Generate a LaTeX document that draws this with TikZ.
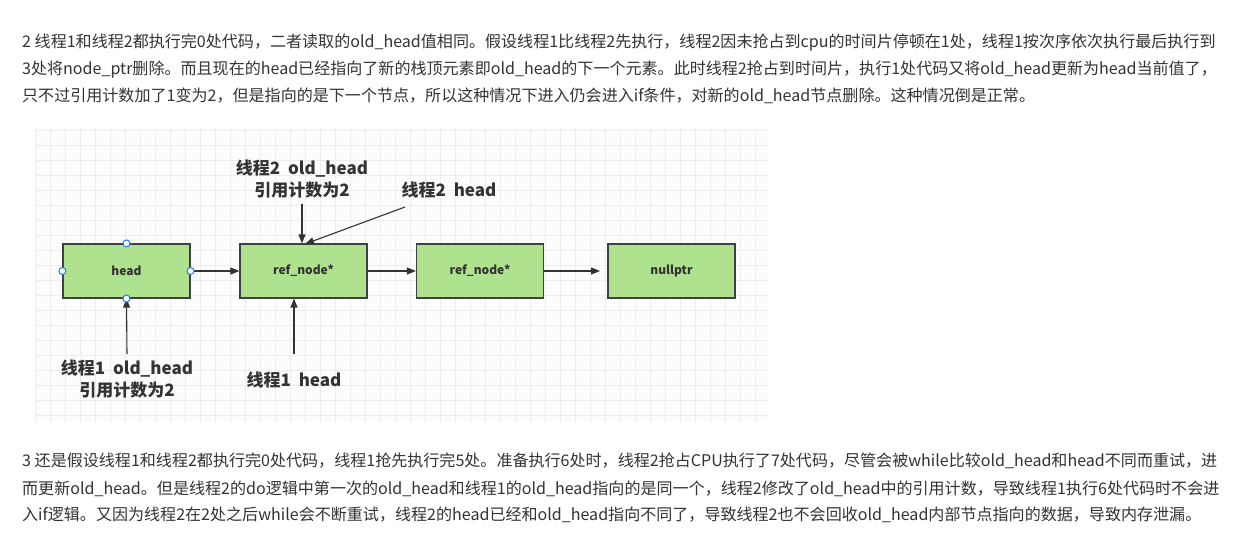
\documentclass[tikz,border=0pt]{standalone}
\usepackage{fontspec}
\setmainfont{Noto Sans CJK SC}
\usetikzlibrary{arrows.meta}
\begin{document}
\begin{tikzpicture}[x=1pt,y=-1pt,
  para/.style={anchor=west,inner sep=0,font=\fontsize{16.05}{18}\selectfont,text=black!80},
  box/.style={draw=black!75,line width=1.2pt,fill={rgb,255:red,174;green,226;blue,142},minimum width=127pt,minimum height=54pt,font=\bfseries\fontsize{12}{14}\selectfont,text=black!80},
  lbl/.style={font=\bfseries\fontsize{17}{20}\selectfont,text=black!80,align=center,inner sep=0},
  arr/.style={-{Triangle[length=9pt,width=7pt]},draw=black!80,line width=1.1pt},
  hnd/.style={circle,draw={rgb,255:red,30;green,120;blue,255},fill=white,inner sep=0,minimum size=7pt,line width=1pt}]
\useasboundingbox (0,0) rectangle (1235,541);
\fill[white] (0,0) rectangle (1235,541);
% grid
\fill[black!1] (35,128) rectangle (768,422);
\foreach \x in {35,50,...,768} \draw[black!7,line width=0.8pt] (\x,128) -- (\x,422);
\foreach \y in {130,145,...,422} \draw[black!7,line width=0.8pt] (35,\y) -- (768,\y);
% paragraphs
\node[para] (p1) at (22,43) {2 线程1和线程2都执行完0处代码，二者读取的old\_head值相同。假设线程1比线程2先执行，线程2因未抢占到cpu的时间片停顿在1处，线程1按次序依次执行最后执行到};
\node[para] (p2) at (22,70) {3处将node\_ptr删除。而且现在的head已经指向了新的栈顶元素即old\_head的下一个元素。此时线程2抢占到时间片，执行1处代码又将old\_head更新为head当前值了，};
\node[para] (p3) at (22,96) {只不过引用计数加了1变为2，但是指向的是下一个节点，所以这种情况下进入仍会进入if条件，对新的old\_head节点删除。这种情况倒是正常。};
\node[para] (q1) at (22,461) {3 还是假设线程1和线程2都执行完0处代码，线程1抢先执行完5处。准备执行6处时，线程2抢占CPU执行了7处代码，尽管会被while比较old\_head和head不同而重试，进};
\node[para] (q2) at (22,489) {而更新old\_head。但是线程2的do逻辑中第一次的old\_head和线程1的old\_head指向的是同一个，线程2修改了old\_head中的引用计数，导致线程1执行6处代码时不会进};
\node[para] (q3) at (22,515) {入if逻辑。又因为线程2在2处之后while会不断重试，线程2的head已经和old\_head指向不同了，导致线程2也不会回收old\_head内部节点指向的数据，导致内存泄漏。};
% boxes
\node[box] (h) at (126.5,271) {head};
\node[box] (r1) at (303.5,271) {ref\_node*};
\node[box] (r2) at (480,271) {ref\_node*};
\node[box] (n) at (671.5,271) {nullptr};
\draw[arr] (h.east) -- (r1.west);
\draw[arr] (r1.east) -- (r2.west);
\coordinate (ne) at (600,271);
\draw[arr] (r2.east) -- (ne);
% labels
\node[lbl] (l2o) at (302,179) {线程2\ \ old\_head\\[2pt]引用计数为2};
\node[lbl] (l2h) at (449,190) {线程2\ \ head};
\node[lbl] (l1o) at (127,379) {线程1\ \ old\_head\\[2pt]引用计数为2};
\node[lbl] (l1h) at (294,380) {线程1\ \ head};
\coordinate (a1) at (302,204);
\coordinate (a2) at (405,207);
\coordinate (a3) at (127,354);
\coordinate (a4) at (294,354);
\coordinate (t2) at (305,244);
\draw[arr] (a1) -- (a1 |- r1.north);
\draw[arr] (a2) -- (t2);
\draw[arr] (a3) -- (h.south);
\draw[arr] (a4) -- (a4 |- r1.south);
\foreach \a in {north,south,east,west} \node[hnd] (k\a) at (h.\a) {};
\end{tikzpicture}
\end{document}
